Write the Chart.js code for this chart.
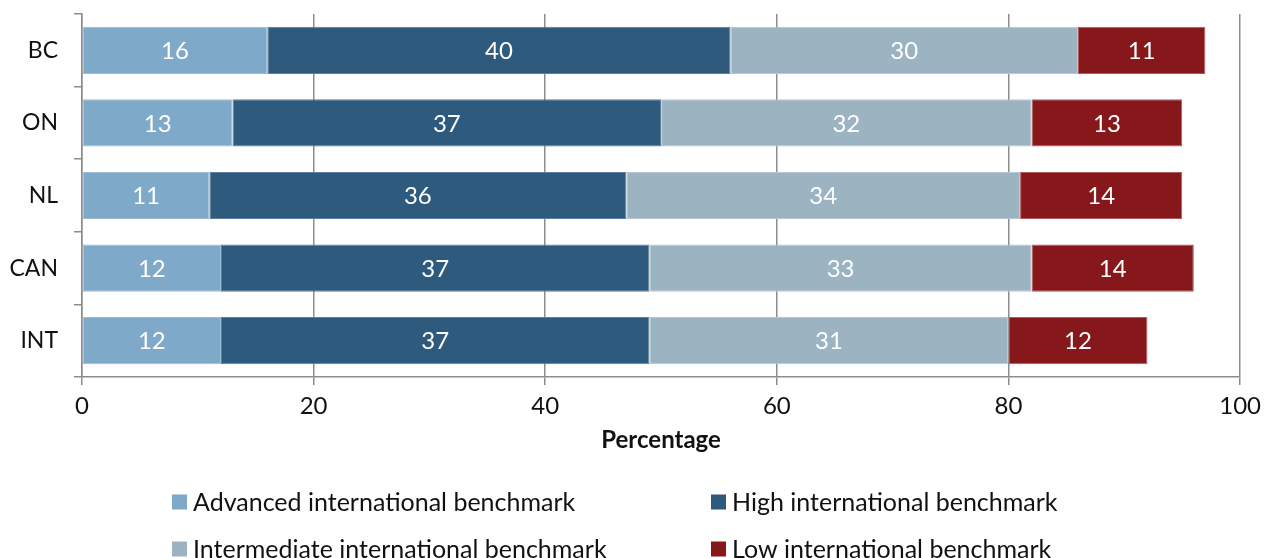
<!DOCTYPE html>
<html>
<head>
<meta charset="utf-8">
<script src="https://cdn.jsdelivr.net/npm/chart.js@4/dist/chart.umd.min.js"></script>
<style>
html,body{margin:0;padding:0;background:#fff;}
#wrap{width:1268px;height:558px;position:relative;}
</style>
</head>
<body>
<div id="wrap"><canvas id="c" width="1268" height="558"></canvas></div>
<script>
const categories = ["BC", "ON", "NL", "CAN", "INT"];
const seriesNames = ["Advanced international benchmark", "High international benchmark", "Intermediate international benchmark", "Low international benchmark"];
const advanced = [16, 13, 11, 12, 12];
const high = [40, 37, 36, 37, 37];
const intermediate = [30, 32, 34, 33, 31];
const low = [11, 13, 14, 14, 12];
const xTicks = [0, 20, 40, 60, 80, 100];
const colors = ["#7FA9C9", "#2E5A7E", "#9CB3C2", "#86181C"];
const borders = ["#9DBDD6", "#5A7E9C", "#B6C8D3", "#B05A5E"];

const FONT = "Lato, 'Open Sans', sans-serif";
const GRID = "#8C8C8C";

const dataLabels = {
  id: 'dataLabels',
  afterDatasetsDraw(chart) {
    const ctx = chart.ctx;
    ctx.save();
    ctx.fillStyle = '#ffffff';
    ctx.font = '24px ' + FONT;
    ctx.textAlign = 'center';
    ctx.textBaseline = 'middle';
    chart.data.datasets.forEach((ds, di) => {
      const meta = chart.getDatasetMeta(di);
      meta.data.forEach((el, i) => {
        const p = el.getCenterPoint();
        ctx.fillText(String(ds.data[i]), p.x, p.y + 1);
      });
    });
    ctx.restore();
  }
};

const gridLegend = {
  id: 'gridLegend',
  afterDraw(chart) {
    const ctx = chart.ctx;
    const colX = [172, 711];
    const rowY = [502, 549];
    const box = 15;
    ctx.save();
    ctx.font = '25px ' + FONT;
    ctx.textBaseline = 'middle';
    ctx.textAlign = 'left';
    chart.data.datasets.forEach((ds, i) => {
      const x = colX[i % 2];
      const y = rowY[Math.floor(i / 2)];
      ctx.fillStyle = ds.backgroundColor;
      ctx.fillRect(x, y - box / 2, box, box);
      ctx.fillStyle = '#111111';
      ctx.fillText(ds.label, x + box + 6, y + 1);
    });
    ctx.restore();
  }
};

const seriesValues = [advanced, high, intermediate, low];

new Chart(document.getElementById('c'), {
  type: 'bar',
  data: {
    labels: categories,
    datasets: seriesValues.map((vals, i) => ({
      label: seriesNames[i],
      data: vals,
      backgroundColor: colors[i],
      borderColor: borders[i],
      borderWidth: 1,
      borderSkipped: false,
      categoryPercentage: 1.0,
      barPercentage: 0.65
    }))
  },
  options: {
    indexAxis: 'y',
    responsive: false,
    animation: false,
    devicePixelRatio: 1,
    layout: { padding: { top: 14, right: 25, bottom: 91, left: 0 } },
    plugins: {
      legend: { display: false },
      tooltip: { enabled: false }
    },
    scales: {
      x: {
        stacked: true,
        min: 0,
        max: 100,
        afterBuildTicks: (s) => { s.ticks = xTicks.map(v => ({ value: v })); },
        afterFit: (s) => { s.height = 90; },
        grid: {
          display: true,
          drawOnChartArea: true,
          drawTicks: true,
          tickLength: 8,
          color: GRID,
          lineWidth: 1.5
        },
        border: { display: true, color: GRID, width: 1.5 },
        ticks: {
          color: '#111111',
          font: { family: FONT, size: 24 },
          padding: 7
        },
        title: {
          display: true,
          text: 'Percentage',
          color: '#111111',
          font: { family: FONT, size: 24, weight: 'bold' },
          padding: { top: 0, bottom: 12 }
        }
      },
      y: {
        stacked: true,
        afterFit: (s) => { s.width = 82; s.paddingTop = 0; s.paddingBottom = 0; },
        grid: {
          display: true,
          offset: true,
          drawOnChartArea: false,
          drawTicks: true,
          tickLength: 8,
          color: GRID,
          lineWidth: 1.5
        },
        border: { display: true, color: GRID, width: 1.5 },
        ticks: {
          color: '#111111',
          font: { family: FONT, size: 23 },
          padding: 16
        }
      }
    }
  },
  plugins: [dataLabels, gridLegend]
});
</script>
</body>
</html>
